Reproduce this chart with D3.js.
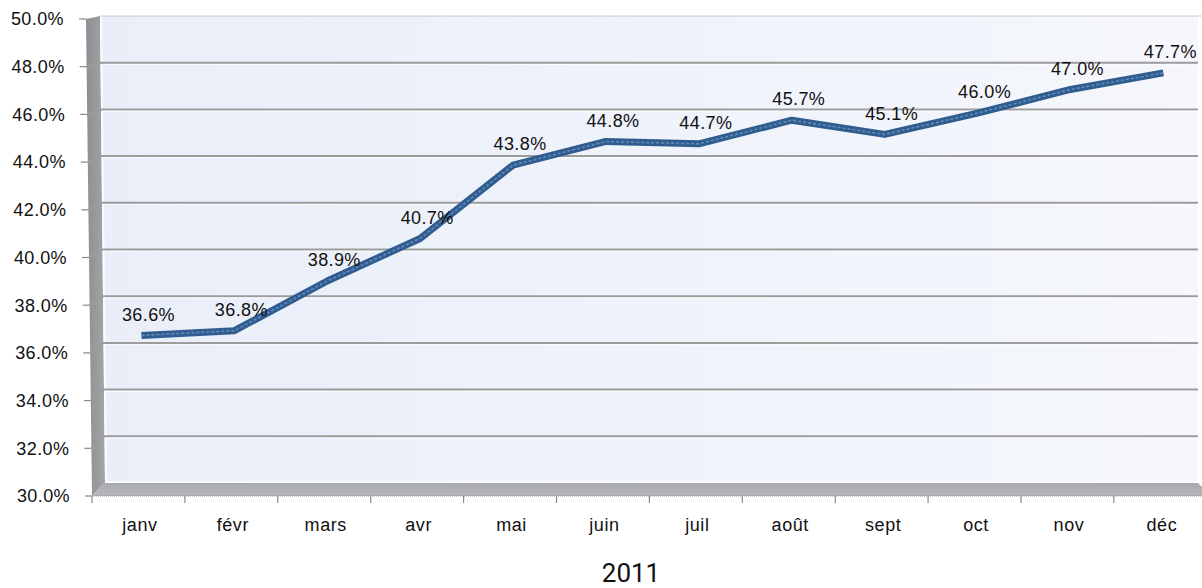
<!DOCTYPE html>
<html>
<head>
<meta charset="utf-8">
<script src="https://cdn.jsdelivr.net/npm/d3@7"></script>
<style>
  body { margin: 0; background: #fff; }
  text { font-family: "Liberation Sans", Arial, sans-serif; fill: #111; }
</style>
</head>
<body>
<div id="chart"></div>
<script>
// data
var months = ["janv", "févr", "mars", "avr", "mai", "juin", "juil", "août", "sept", "oct", "nov", "déc"];
var values = [36.6, 36.8, 38.9, 40.7, 43.8, 44.8, 44.7, 45.7, 45.1, 46.0, 47.0, 47.7];
var yTicks = [30, 32, 34, 36, 38, 40, 42, 44, 46, 48, 50];
var title = "2011";

var width = 1202, height = 588;

var svg = d3.select("#chart").append("svg")
    .attr("width", width)
    .attr("height", height);

var defs = svg.append("defs");

var wallGrad = defs.append("linearGradient").attr("id", "wallGrad")
    .attr("x1", "0").attr("x2", "1").attr("y1", "0").attr("y2", "0");
wallGrad.append("stop").attr("offset", "0").attr("stop-color", "#e9eef9");
wallGrad.append("stop").attr("offset", "1").attr("stop-color", "#f5f7fc");

var sideGrad = defs.append("linearGradient").attr("id", "sideGrad")
    .attr("x1", "0").attr("x2", "1").attr("y1", "0").attr("y2", "0");
sideGrad.append("stop").attr("offset", "0").attr("stop-color", "#8d8e92");
sideGrad.append("stop").attr("offset", "1").attr("stop-color", "#a4a5a9");

var floorGrad = defs.append("linearGradient").attr("id", "floorGrad")
    .attr("x1", "0").attr("x2", "0").attr("y1", "0").attr("y2", "1");
floorGrad.append("stop").attr("offset", "0").attr("stop-color", "#a9aaae");
floorGrad.append("stop").attr("offset", "1").attr("stop-color", "#b8b9bd");

// front edge of the value axis (slightly tilted, perspective)
var yFront = d3.scaleLinear().domain([30, 50]).range([496, 19]);
var xFront = d3.scaleLinear().domain([30, 50]).range([92, 86]);
// back wall edge
var yBack = d3.scaleLinear().domain([30, 50]).range([483, 16]);
var xBack = d3.scaleLinear().domain([30, 50]).range([105, 100]);
// middle depth, where the line ribbon sits
var yMid = d3.scaleLinear().domain([30, 50]).range([491.5, 18.5]);

var xCat = d3.scaleBand().domain(months).range([92, 92 + 12 * 92.9]);
var xMid = d3.scaleBand().domain(months).range([95, 95 + 12 * 92.9]);

var right = 1198;

// back wall
svg.append("path")
    .attr("d", "M" + xBack(50) + "," + yBack(50) + "L" + right + "," + yBack(50) +
      "L" + right + "," + yBack(30) + "L" + xBack(30) + "," + yBack(30) + "Z")
    .attr("fill", "url(#wallGrad)");

// side wall
svg.append("path")
    .attr("d", "M" + xFront(50) + "," + yFront(50) + "L" + xBack(50) + "," + yBack(50) +
      "L" + xBack(30) + "," + yBack(30) + "L" + xFront(30) + "," + yFront(30) + "Z")
    .attr("fill", "url(#sideGrad)");

// floor
svg.append("path")
    .attr("d", "M" + xFront(30) + "," + yFront(30) + "L" + xBack(30) + "," + yBack(30) +
      "L" + right + "," + yBack(30) + "L" + (right + 13) + "," + yFront(30) + "Z")
    .attr("fill", "url(#floorGrad)");

// light rims where the wall meets side wall and floor
svg.append("path")
    .attr("d", "M" + (xBack(50) + 1) + "," + yBack(50) + "L" + (xBack(30) + 1) + "," + (yBack(30) - 1) +
      "L" + right + "," + (yBack(30) - 1))
    .attr("fill", "none").attr("stroke", "#fbfcfe").attr("stroke-width", 2);

// gridlines
var grid = svg.append("g");
yTicks.filter(function(d) { return d > 30 && d < 50; }).forEach(function(d) {
  grid.append("path")
      .attr("d", "M" + xFront(d) + "," + yFront(d) + "L" + xBack(d) + "," + yBack(d) + "L" + right + "," + yBack(d))
      .attr("fill", "none")
      .attr("stroke", "#9c9c9c")
      .attr("stroke-width", 2);
  grid.append("line")
      .attr("x1", xBack(d) + 1).attr("x2", right)
      .attr("y1", yBack(d) + 1.8).attr("y2", yBack(d) + 1.8)
      .attr("stroke", "#fbfcfe").attr("stroke-width", 1);
});

// top edge of the back wall, dotted
svg.append("line")
    .attr("x1", xBack(50)).attr("x2", width)
    .attr("y1", yBack(50)).attr("y2", yBack(50))
    .attr("stroke", "#a0a0a0").attr("stroke-width", 1.2)
    .attr("stroke-dasharray", "1,1");

// front edge of floor, dotted
svg.append("line")
    .attr("x1", xFront(30)).attr("x2", width)
    .attr("y1", yFront(30)).attr("y2", yFront(30))
    .attr("stroke", "#8a8a8a").attr("stroke-width", 1.2)
    .attr("stroke-dasharray", "1,1");

// value axis ticks and labels
var yAxis = svg.append("g");
yTicks.forEach(function(d) {
  yAxis.append("line")
      .attr("x1", xFront(d) - 7).attr("x2", xFront(d))
      .attr("y1", yFront(d)).attr("y2", yFront(d))
      .attr("stroke", "#8a8a8a").attr("stroke-width", 1.2);
  yAxis.append("text")
      .attr("x", xFront(d) - 22)
      .attr("y", yFront(d))
      .attr("dy", "0.35em")
      .attr("text-anchor", "end")
      .attr("font-size", "18px")
      .attr("letter-spacing", "0.4px")
      .text(d.toFixed(1) + "%");
});

// category axis ticks and labels
var xAxis = svg.append("g");
months.forEach(function(m, i) {
  xAxis.append("line")
      .attr("x1", xCat(m)).attr("x2", xCat(m))
      .attr("y1", yFront(30)).attr("y2", yFront(30) + 7)
      .attr("stroke", "#8a8a8a").attr("stroke-width", 1.2);
  xAxis.append("text")
      .attr("x", xCat(m) + xCat.bandwidth() / 2 + 1.5)
      .attr("y", 525)
      .attr("dy", "0.35em")
      .attr("text-anchor", "middle")
      .attr("font-size", "18px")
      .attr("letter-spacing", "0.6px")
      .text(m);
});

// the line, a flat ribbon look
var line = d3.line()
    .x(function(d, i) { return xMid(months[i]) + xMid.bandwidth() / 2; })
    .y(function(d) { return yMid(d); });

svg.append("path")
    .datum(values)
    .attr("d", line)
    .attr("fill", "none")
    .attr("stroke", "#2f5d90")
    .attr("stroke-width", 7)
    .attr("stroke-linejoin", "round");

svg.append("path")
    .datum(values)
    .attr("d", line)
    .attr("fill", "none")
    .attr("stroke", "#6489b6")
    .attr("stroke-width", 1.6)
    .attr("stroke-dasharray", "3,2")
    .attr("stroke-linejoin", "round");

// data labels
svg.append("g").selectAll("text")
    .data(values)
    .enter().append("text")
    .attr("x", function(d, i) { return xMid(months[i]) + xMid.bandwidth() / 2 + 7; })
    .attr("y", function(d) { return yMid(d) - 21; })
    .attr("dy", "0.35em")
    .attr("text-anchor", "middle")
    .attr("font-size", "18px")
    .attr("letter-spacing", "0.4px")
    .text(function(d) { return d.toFixed(1) + "%"; });

// title below
svg.append("text")
    .attr("x", 631)
    .attr("y", 582)
    .attr("text-anchor", "middle")
    .style("font-family", "Roboto, 'Noto Sans', sans-serif")
    .attr("font-size", "26px")
    .text(title);
</script>
</body>
</html>
